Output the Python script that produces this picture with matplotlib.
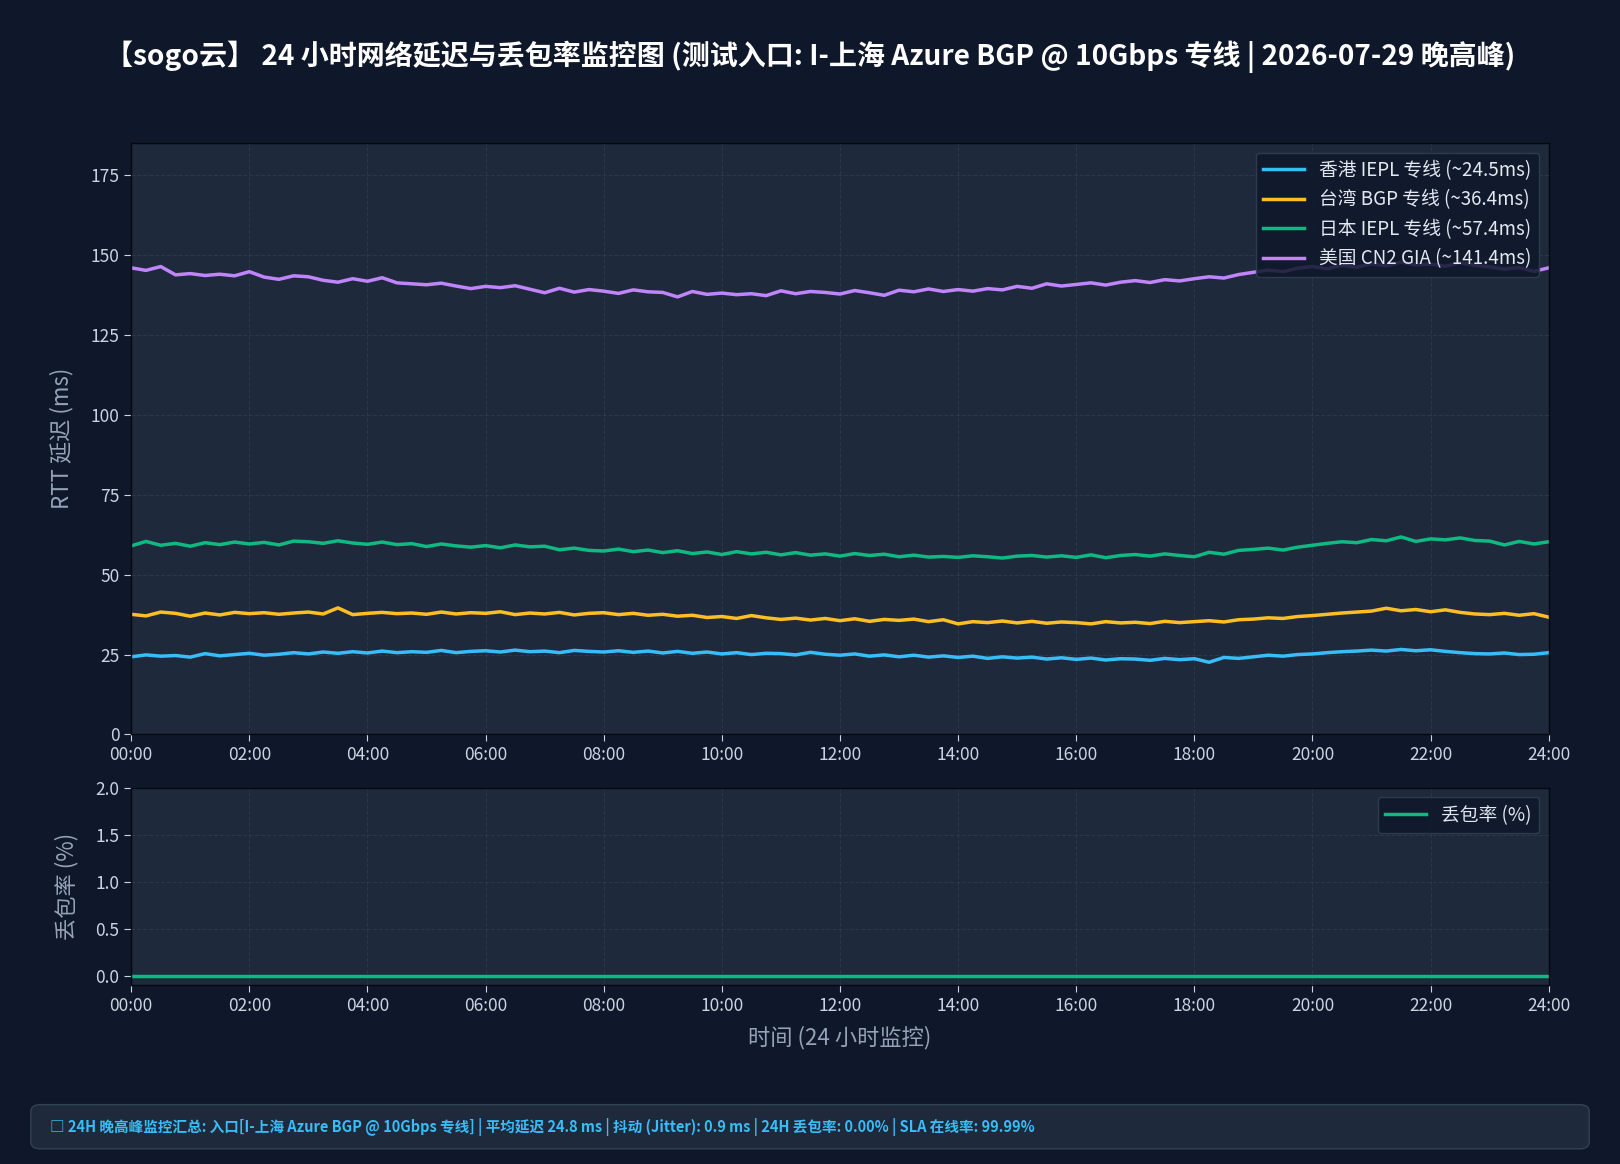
import matplotlib
matplotlib.use('Agg')
import matplotlib.pyplot as plt
from matplotlib.patches import FancyBboxPatch

plt.rcParams['font.family'] = ['Noto Sans CJK SC', 'DejaVu Sans']
plt.rcParams['axes.unicode_minus'] = False

# sample times (hours, every 15 min)
hours = [i * 0.25 for i in range(97)]

hk = [24.3, 24.9, 24.5, 24.7, 24.2, 25.3, 24.6, 25.0,
      25.4, 24.8, 25.1, 25.6, 25.2, 25.8, 25.4, 25.9,
      25.5, 26.1, 25.6, 25.9, 25.7, 26.3, 25.6, 26.0,
      26.2, 25.8, 26.4, 25.9, 26.1, 25.6, 26.3, 26.0,
      25.8, 26.2, 25.7, 26.1, 25.5, 26.0, 25.4, 25.8,
      25.2, 25.6, 25.0, 25.4, 25.3, 24.9, 25.7, 25.1,
      24.8, 25.2, 24.5, 24.9, 24.3, 24.8, 24.2, 24.6,
      24.1, 24.5, 23.8, 24.3, 23.9, 24.2, 23.6, 24.0,
      23.5, 23.9, 23.3, 23.7, 23.6, 23.2, 23.8, 23.4,
      23.7, 22.6, 24.1, 23.8, 24.3, 24.8, 24.5, 25.0,
      25.2, 25.6, 25.9, 26.1, 26.4, 26.1, 26.6, 26.2,
      26.5, 26.0, 25.6, 25.3, 25.2, 25.5, 25.0, 25.1,
      25.6]

tw = [37.6, 37.1, 38.3, 37.9, 37.0, 38.0, 37.4, 38.2,
      37.8, 38.1, 37.6, 38.0, 38.3, 37.7, 39.6, 37.5,
      37.9, 38.2, 37.8, 38.0, 37.6, 38.3, 37.7, 38.1,
      37.9, 38.4, 37.5, 38.0, 37.7, 38.2, 37.4, 37.9,
      38.1, 37.5, 37.9, 37.3, 37.6, 37.0, 37.3, 36.6,
      36.9, 36.3, 37.2, 36.5, 36.0, 36.4, 35.8, 36.3,
      35.6, 36.2, 35.4, 36.0, 35.7, 36.1, 35.3, 35.9,
      34.6, 35.3, 35.0, 35.5, 34.9, 35.4, 34.8, 35.2,
      35.0, 34.6, 35.3, 34.9, 35.1, 34.7, 35.4, 35.0,
      35.3, 35.6, 35.2, 35.9, 36.1, 36.5, 36.3, 36.9,
      37.2, 37.6, 38.0, 38.3, 38.6, 39.5, 38.7, 39.1,
      38.4, 39.0, 38.2, 37.7, 37.5, 37.9, 37.3, 37.8,
      36.7]

jp = [59.0, 60.4, 59.2, 59.8, 58.9, 60.0, 59.4, 60.2,
      59.6, 60.1, 59.3, 60.5, 60.3, 59.8, 60.6, 59.9,
      59.5, 60.2, 59.4, 59.7, 58.8, 59.6, 59.0, 58.6,
      59.1, 58.4, 59.3, 58.7, 58.9, 57.8, 58.3, 57.6,
      57.4, 58.0, 57.2, 57.7, 56.9, 57.5, 56.6, 57.1,
      56.3, 57.2, 56.5, 57.0, 56.2, 56.9, 56.1, 56.5,
      55.8, 56.6, 56.0, 56.4, 55.6, 56.1, 55.5, 55.7,
      55.4, 55.9, 55.6, 55.2, 55.8, 56.0, 55.5, 55.9,
      55.4, 56.2, 55.3, 56.0, 56.3, 55.8, 56.5, 56.0,
      55.6, 57.0, 56.4, 57.6, 57.9, 58.3, 57.7, 58.6,
      59.2, 59.8, 60.3, 60.0, 61.0, 60.6, 61.8, 60.4,
      61.2, 60.9, 61.5, 60.7, 60.5, 59.3, 60.4, 59.6,
      60.3]

us = [146.0, 145.2, 146.4, 143.8, 144.2, 143.6, 144.0, 143.5,
      144.8, 143.1, 142.4, 143.5, 143.2, 142.1, 141.5, 142.6,
      141.8, 142.9, 141.3, 141.0, 140.7, 141.2, 140.3, 139.5,
      140.2, 139.8, 140.4, 139.3, 138.2, 139.6, 138.4, 139.2,
      138.7, 138.0, 139.1, 138.5, 138.3, 136.9, 138.6, 137.7,
      138.1, 137.6, 137.9, 137.3, 138.8, 137.9, 138.6, 138.3,
      137.8, 138.9, 138.2, 137.4, 139.0, 138.5, 139.4, 138.6,
      139.2, 138.7, 139.5, 139.1, 140.2, 139.6, 141.0, 140.3,
      140.8, 141.3, 140.6, 141.5, 142.0, 141.4, 142.3, 141.9,
      142.6, 143.2, 142.8, 143.9, 144.6, 145.3, 144.8, 145.9,
      146.4, 145.7, 146.8, 146.2, 147.3, 146.6, 147.8, 146.9,
      147.2, 146.5, 147.6, 146.8, 146.3, 145.6, 146.1, 144.9,
      146.0]

loss = [0.0] * 97

series = [
    ('香港 IEPL 专线 (~24.5ms)', hk, '#38bdf8'),
    ('台湾 BGP 专线 (~36.4ms)', tw, '#fbbf24'),
    ('日本 IEPL 专线 (~57.4ms)', jp, '#10b981'),
    ('美国 CN2 GIA (~141.4ms)', us, '#c084fc'),
]
tick_hours = list(range(0, 25, 2))
tick_labels = [f'{h:02d}:00' for h in tick_hours]

bg = '#0f172a'
panel = '#1e293b'
tick_c = '#cbd5e1'
label_c = '#94a3b8'

fig = plt.figure(figsize=(16.2, 11.64), dpi=100, facecolor=bg)
ax1 = fig.add_axes([0.081, 0.369, 0.875, 0.508])
ax2 = fig.add_axes([0.081, 0.154, 0.875, 0.169])

for ax in (ax1, ax2):
    ax.set_facecolor(panel)
    for s in ax.spines.values():
        s.set_color('#05080f')
        s.set_linewidth(1.0)
    ax.tick_params(colors=tick_c, labelsize=12.5, length=5)
    ax.grid(True, linestyle='--', color='#334155', alpha=0.6, linewidth=0.8)
    ax.set_xlim(0, 24)
    ax.set_xticks(tick_hours)
    ax.set_xticklabels(tick_labels)

for name, vals, col in series:
    ax1.plot(hours, vals, color=col, lw=2.5, label=name)
ax1.set_ylim(0, 185)
ax1.set_yticks(range(0, 176, 25))
ax1.set_ylabel('RTT 延迟 (ms)', color=label_c, fontsize=16, labelpad=12)
ax1.legend(loc='upper right', fontsize=13.5, facecolor=bg, edgecolor='#334155',
           labelcolor='#e2e8f0', framealpha=0.85, handlelength=2.2, labelspacing=0.45)

ax2.plot(hours, loss, color='#10b981', lw=2.5, label='丢包率 (%)')
ax2.set_ylim(-0.09, 2.0)
ax2.set_yticks([0.0, 0.5, 1.0, 1.5, 2.0])
ax2.set_ylabel('丢包率 (%)', color=label_c, fontsize=16, labelpad=12)
ax2.set_xlabel('时间 (24 小时监控)', color=label_c, fontsize=16, labelpad=8)
ax2.legend(loc='upper right', fontsize=13.5, facecolor=bg, edgecolor='#334155',
           labelcolor='#e2e8f0', framealpha=0.85, handlelength=2.2)

fig.text(0.5, 0.951, '【sogo云】 24 小时网络延迟与丢包率监控图 (测试入口: I-上海 Azure BGP @ 10Gbps 专线 | 2026-07-29 晚高峰)',
         ha='center', va='center', color='white', fontsize=20.2, fontweight='bold')

box = FancyBboxPatch((0.019, 0.013), 0.962, 0.038, boxstyle='round,pad=0,rounding_size=0.006',
                     transform=fig.transFigure, facecolor=panel, edgecolor='#334155', lw=1)
fig.patches.append(box)
fig.text(0.031, 0.032, '□ 24H 晚高峰监控汇总: 入口[I-上海 Azure BGP @ 10Gbps 专线] | 平均延迟 24.8 ms | 抖动 (Jitter): 0.9 ms | 24H 丢包率: 0.00% | SLA 在线率: 99.99%',
         ha='left', va='center', color='#38bdf8', fontsize=10.5, fontweight='bold')

fig.savefig('out.png', dpi=100, facecolor=bg)
